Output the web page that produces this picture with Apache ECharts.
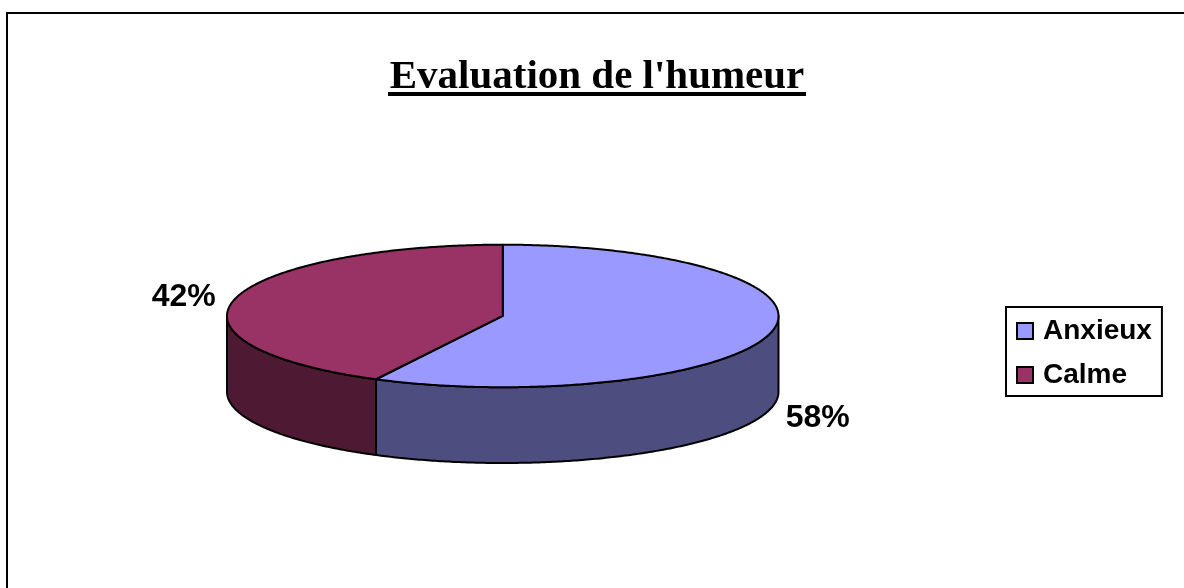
<!DOCTYPE html>
<html>
<head>
<meta charset="utf-8">
<style>html,body{margin:0;padding:0;background:#fff}#chart{width:1184px;height:588px}</style>
<script src="https://cdn.jsdelivr.net/npm/echarts@6/dist/echarts.min.js"></script>
</head>
<body>
<div id="chart"></div>
<script>
const titleText = "Evaluation de l'humeur";
const categories = ['Anxieux', 'Calme'];
const values = [57.6, 42.4];
const labels = ['58%', '42%'];
const topColors = ['#9999FF', '#993366'];
const sideColors = ['#4D4D80', '#4D1933'];

const depth = 1.063;   // wall height, in units of the ellipse's vertical radius
const total = values.reduce((a, b) => a + b, 0);
const spans = [];
let acc = 0;
values.forEach(v => { spans.push([acc / total * 2 * Math.PI, (acc + v) / total * 2 * Math.PI]); acc += v; });

function rim(a0, a1, drop) {
  const pts = [];
  const n = Math.max(2, Math.ceil((a1 - a0) / 0.01));
  for (let i = 0; i <= n; i++) {
    const a = a0 + (a1 - a0) * i / n;
    pts.push([Math.sin(a), Math.cos(a) - drop]);
  }
  return pts;
}

function renderSlice(params, api) {
  const i = params.seriesIndex;
  const a0 = api.value(0), a1 = api.value(1);
  const stroke = { stroke: '#000', lineWidth: 2, lineJoin: 'round' };
  const toPx = p => api.coord(p);
  const children = [];
  // front wall: the part of the slice between 90 and 270 degrees
  const w0 = Math.max(a0, Math.PI / 2), w1 = Math.min(a1, 3 * Math.PI / 2);
  if (w1 > w0) {
    const pts = rim(w0, w1, 0).concat(rim(w0, w1, depth).reverse()).map(toPx);
    children.push({ type: 'polygon', z2: 1, shape: { points: pts }, style: Object.assign({ fill: sideColors[i] }, stroke) });
  }
  // top face
  const topPts = [[0, 0]].concat(rim(a0, a1, 0)).map(toPx);
  children.push({ type: 'polygon', z2: 2, shape: { points: topPts }, style: Object.assign({ fill: topColors[i] }, stroke) });
  // percentage label, beside the rim at the slice's middle angle
  const mid = (a0 + a1) / 2;
  const front = Math.cos(mid) < 0 && Math.sin(mid) > 0;
  const anchor = toPx([Math.sin(mid), Math.cos(mid) - (front ? depth : 0)]);
  children.push({
    type: 'text', z2: 3,
    x: anchor[0] + (Math.sin(mid) > 0 ? 15 : -19),
    y: anchor[1] + (front ? 10 : -2),
    style: {
      text: labels[i], fill: '#000',
      font: 'bold 32px "Liberation Sans"',
      align: Math.sin(mid) > 0 ? 'left' : 'right',
      verticalAlign: 'middle'
    }
  });
  return { type: 'group', children };
}

const chart = echarts.init(document.getElementById('chart'), null, { renderer: 'canvas' });
chart.setOption({
  animation: false,
  backgroundColor: '#fff',
  title: {
    text: titleText, left: 597, top: 57, textAlign: 'center', padding: 0,
    textStyle: { fontFamily: 'Liberation Serif', fontWeight: 'bold', fontSize: 41, color: '#000' }
  },
  legend: {
    data: categories, orient: 'vertical', left: 1006, top: 307,
    padding: [10, 10, 7, 10], itemWidth: 16, itemHeight: 16, itemGap: 16,
    icon: 'rect',
    borderColor: '#000', borderWidth: 2,
    itemStyle: { borderColor: '#000', borderWidth: 2 },
    textStyle: { fontFamily: 'Liberation Sans', fontWeight: 'bold', fontSize: 28, color: '#000', padding: [0, 0, 0, 5] }
  },
  grid: { left: 227, width: 551.5, top: 244.7, height: 218.3, containLabel: false },
  xAxis: { type: 'value', min: -1, max: 1, show: false },
  yAxis: { type: 'value', min: -1 - depth, max: 1, show: false },
  graphic: [
    { type: 'polyline', silent: true, shape: { points: [[7, 588], [7, 13], [1184, 13]] }, style: { stroke: '#000', lineWidth: 2, fill: null } },
    { type: 'rect', silent: true, shape: { x: 388, y: 92, width: 418, height: 4 }, style: { fill: '#000' } }
  ],
  series: categories.map((name, i) => ({
    type: 'custom', name, coordinateSystem: 'cartesian2d', clip: false,
    itemStyle: { color: topColors[i] },
    encode: { x: 0, y: 1 },
    renderItem: renderSlice,
    data: [spans[i]]
  }))
});
</script>
</body>
</html>
